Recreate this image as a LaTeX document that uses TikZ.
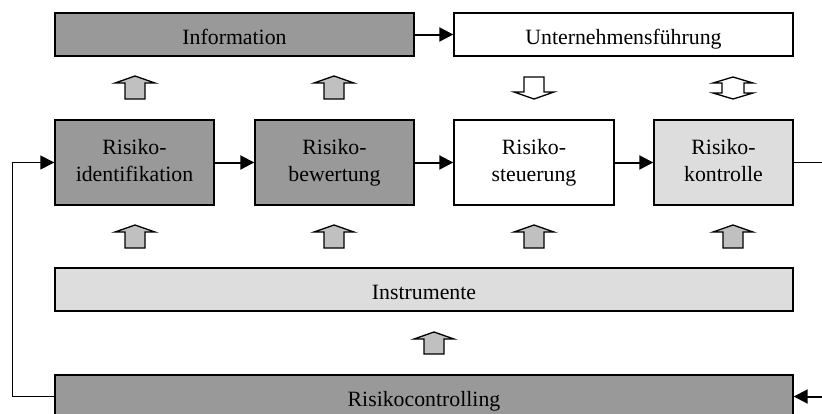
\documentclass[tikz,border=0pt]{standalone}
\usepackage{fontspec}
\setmainfont{Liberation Serif}
\usetikzlibrary{arrows.meta}
\definecolor{boxdark}{RGB}{153,153,153}
\definecolor{boxlight}{RGB}{221,221,221}
\definecolor{arrowgray}{RGB}{192,192,192}
\newcommand\mytwo[2]{\raisebox{4.7pt}{\begin{tabular}{@{}c@{}}#1\\#2\end{tabular}}}
\newcommand\blockup[3]{%
  \draw[barrow] (#1-10,#3) -- (#1-10,#2+7) -- (#1-20,#2+7) -- (#1,#2) -- (#1+20,#2+7) -- (#1+10,#2+7) -- (#1+10,#3) -- cycle;}
\newcommand\blockdown[3]{%
  \draw[barrow,fill=white] (#1-10,#2) -- (#1-10,#3-7) -- (#1-20,#3-7) -- (#1,#3) -- (#1+20,#3-7) -- (#1+10,#3-7) -- (#1+10,#2) -- cycle;}
\newcommand\blockboth[3]{%
  \draw[barrow,fill=white] (#1-11,#2+6) -- (#1-20,#2+6) -- (#1,#2) -- (#1+20,#2+6) -- (#1+11,#2+6) -- (#1+11,#3-6) -- (#1+20,#3-6) -- (#1,#3) -- (#1-20,#3-6) -- (#1-11,#3-6) -- cycle;}
\begin{document}
\begin{tikzpicture}[x=1pt,y=-1pt,
  box/.style={draw=black,line width=1.4pt,inner sep=0pt,font=\fontsize{21.8}{27}\selectfont,align=center},
  one/.style={box,text height=19pt,text depth=0pt,minimum height=43pt},
  two/.style={box,minimum height=85pt},
  dark/.style={fill=boxdark},
  light/.style={fill=boxlight},
  plain/.style={fill=white},
  conn/.style={line width=2pt,-{Triangle[length=14pt,width=14pt]}},
  barrow/.style={draw=black,line width=1.3pt,fill=arrowgray,line join=miter}]
\useasboundingbox (0,0) rectangle (822,413);
% top row
\node[one,dark,minimum width=359pt] (info) at (234.5,34.5) {Information};
\node[one,plain,minimum width=339pt] (uf) at (623.5,34.5) {Unternehmensführung};
% process row
\node[two,dark,minimum width=159pt] (ri) at (134.5,162.5) {\mytwo{Risiko-}{identifikation}};
\node[two,dark,minimum width=159pt] (rb) at (334.5,162.5) {\mytwo{Risiko-}{bewertung}};
\node[two,plain,minimum width=160pt] (rs) at (534,162.5) {\mytwo{Risiko-}{steuerung}};
\node[two,light,minimum width=139pt] (rk) at (723.5,162.5) {\mytwo{Risiko-}{kontrolle}};
% lower bars
\node[one,light,minimum width=738pt] (ins) at (424,289.5) {Instrumente};
\node[one,dark,minimum width=738pt] (rc) at (424,396.5) {Risikocontrolling};
% free ends
\coordinate (rout) at (822,162.5);
\coordinate (rin) at (822,396.5);
% connectors
\draw[conn] (info.east) -- (uf.west);
\draw[conn] (ri.east) -- (rb.west);
\draw[conn] (rb.east) -- (rs.west);
\draw[conn] (rs.east) -- (rk.west);
\draw[line width=1.3pt] (rk.east) -- (rout);
\draw[conn] (rin) -- (rc.east);
\draw[conn,line width=1.5pt] (rc.west) -- ++(-42,0) |- (ri.west);
% block arrows
\blockup{135}{76}{99}
\blockup{334}{76}{99}
\blockdown{534}{77}{99}
\blockboth{733}{77}{99}
\blockup{135}{225}{248}
\blockup{334}{225}{248}
\blockup{534}{225}{248}
\blockup{733}{225}{248}
\blockup{434}{332}{354}
\end{tikzpicture}
\end{document}
